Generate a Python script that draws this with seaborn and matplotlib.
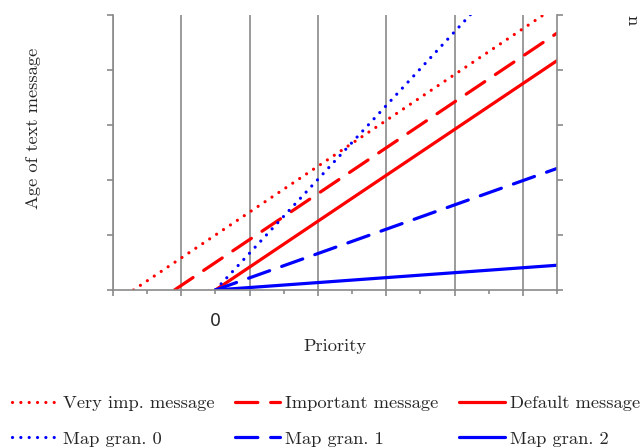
import numpy as np
import pandas as pd
import matplotlib
matplotlib.use("Agg")
import matplotlib.pyplot as plt
import seaborn as sns

# Series endpoints (priority, age) for each message class
series_names = ["Very imp. message", "Important message", "Default message",
                "Map gran. 0", "Map gran. 1", "Map gran. 2"]
x_very_imp = [-2.4, 9.6]
y_very_imp = [0.0, 5.0]
x_important = [-1.2, 10.0]
y_important = [0.0, 4.67]
x_default = [0.0, 10.0]
y_default = [0.0, 4.17]
x_gran0 = [0.0, 7.5]
y_gran0 = [0.0, 5.03]
x_gran1 = [0.0, 10.0]
y_gran1 = [0.0, 2.21]
x_gran2 = [0.0, 10.0]
y_gran2 = [0.0, 0.45]

xs = [x_very_imp, x_important, x_default, x_gran0, x_gran1, x_gran2]
ys = [y_very_imp, y_important, y_default, y_gran0, y_gran1, y_gran2]

df = pd.DataFrame({
    "Priority": np.concatenate(xs),
    "Age": np.concatenate(ys),
    "series": np.repeat(series_names, 2),
})

palette = {
    "Very imp. message": "#ff0000", "Important message": "#ff0000",
    "Default message": "#ff0000", "Map gran. 0": "#0000ff",
    "Map gran. 1": "#0000ff", "Map gran. 2": "#0000ff",
}
dotted = (0.01, 2.6)
dashed = (7, 4)
dash_map = {
    "Very imp. message": dotted, "Important message": dashed,
    "Default message": "", "Map gran. 0": dotted,
    "Map gran. 1": dashed, "Map gran. 2": "",
}

sns.set_style("white")
plt.rcParams["font.family"] = ["cmr10", "DejaVu Serif"]
plt.rcParams["mathtext.fontset"] = "cm"
plt.rcParams["axes.formatter.use_mathtext"] = True

W, H = 642, 448
FS = 13.3
fig = plt.figure(figsize=(W / 100, H / 100), dpi=100)
ax = fig.add_axes([113 / W, 1 - 290 / H, (557 - 113) / W, (290 - 15) / H])

grey = "#8a8a8a"
ax.set_xlim(-3, 10)
ax.set_ylim(0, 5)
ax.set_xticks(np.arange(-3, 10, 2))
ax.set_xticks(np.arange(-2, 11, 2), minor=True)
ax.set_xticklabels([])
ax.set_xticklabels(["0" if v == 0 else "" for v in np.arange(-2, 11, 2)],
                   minor=True, fontfamily="DejaVu Sans", fontsize=12.5)
ax.set_yticks(np.arange(0, 6, 1))
ax.set_yticklabels([])
ax.grid(True, axis="x", which="major", color=grey, linewidth=1.2)
ax.grid(False, axis="y")
ax.set_axisbelow(True)
for side in ["left", "right", "bottom"]:
    ax.spines[side].set_color(grey)
    ax.spines[side].set_linewidth(1.2)
ax.spines["top"].set_visible(False)
ax.tick_params(axis="x", which="major", direction="out", length=4.5, width=1.2,
               color=grey, bottom=True)
ax.tick_params(axis="x", which="minor", direction="out", length=3, width=1.2,
               color=grey, bottom=True, pad=13)
ax.tick_params(axis="y", which="major", direction="out", length=4.5, width=1.2,
               color=grey, left=True, right=True)

sns.lineplot(data=df, x="Priority", y="Age", hue="series", style="series",
             palette=palette, dashes=dash_map, hue_order=series_names,
             style_order=series_names, linewidth=2.3, legend=False, ax=ax,
             dash_capstyle="round", sort=False, estimator=None)

ax.set_xlabel("")
ax.set_ylabel("")
fig.text(335 / W, 1 - 346 / H, "Priority", ha="center", va="center", fontsize=FS)
fig.text(33 / W, 1 - 128 / H, "Age of text message", ha="center", va="center",
         rotation=90, fontsize=FS)
fig.text(632 / W, 1 - 20 / H, "n", ha="center", va="center", rotation=-90,
         fontsize=FS)

# Legend laid out row by row: message classes on top, map granularities below
lines = {name: ln for name, ln in zip(series_names, ax.get_lines())}
order = ["Very imp. message", "Map gran. 0", "Important message",
         "Map gran. 1", "Default message", "Map gran. 2"]
leg = fig.legend([lines[n] for n in order], order, ncol=3, frameon=False,
                 loc="upper left", bbox_to_anchor=(5 / W, 1 - 388 / H),
                 fontsize=FS, handlelength=2.45, handletextpad=0.28,
                 columnspacing=1.12, labelspacing=1.05, borderaxespad=0)

fig.savefig("out.png", dpi=100)
